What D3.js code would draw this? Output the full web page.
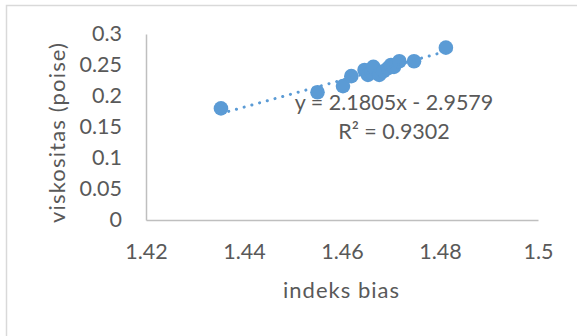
<!DOCTYPE html>
<html>
<head>
<meta charset="utf-8">
<script src="https://cdn.jsdelivr.net/npm/d3@7"></script>
<style>
	html, body {margin: 0; padding: 0; background: #fff;}
	svg {display: block; font-family: Lato, "Open Sans", sans-serif;}
</style>
</head>
<body>
<svg></svg>
<script>
// data
var indeksBias = [1.4353, 1.4550, 1.4602, 1.4619, 1.4646, 1.4653, 1.4660, 1.4664, 1.4676, 1.4685, 1.4694, 1.4700, 1.4706, 1.4717, 1.4747, 1.4812]
var viskositas = [0.180, 0.206, 0.216, 0.232, 0.242, 0.234, 0.238, 0.247, 0.234, 0.240, 0.245, 0.250, 0.247, 0.256, 0.256, 0.278]

var xTicks = [1.42, 1.44, 1.46, 1.48, 1.5]
var yTicks = [0, 0.05, 0.1, 0.15, 0.2, 0.25, 0.3]

// trendline from the chart label
var slope = 2.1805
var intercept = -2.9579
var equationLines = ['y = 2.1805x - 2.9579', 'R² = 0.9302']

var width = 577
var height = 336
var blue = '#5b9bd5'
var textColor = '#595959'

var svg = d3.select('svg').attr('width', width).attr('height', height)

// chart area border
svg.append('rect')
	.attr('x', 6.5).attr('y', 5.5)
	.attr('width', width).attr('height', height)
	.attr('fill', 'none')
	.attr('stroke', '#d9d9d9')
	.attr('stroke-width', 1.5)

var x = d3.scaleLinear().domain([1.42, 1.5]).range([146, 538])
var y = d3.scaleLinear().domain([0, 0.3]).range([220, 34])

// axes
svg.append('g').attr('transform', 'translate(0,' + y(0) + ')')
	.call(d3.axisBottom(x).tickValues(xTicks).tickSize(0).tickPadding(24).tickFormat(d3.format('')))
svg.append('g').attr('transform', 'translate(' + x(1.42) + ',0)')
	.call(d3.axisLeft(y).tickValues(yTicks).tickSize(0).tickPadding(24).tickFormat(d3.format('')))

svg.selectAll('.domain').attr('stroke', '#bfbfbf').attr('stroke-width', 1.5)
svg.selectAll('.tick text')
	.attr('fill', textColor)
	.style('font-size', '21.5px')
	.style('font-family', 'Lato, sans-serif')

// axis titles
svg.append('text')
	.attr('x', 341).attr('y', 298)
	.attr('text-anchor', 'middle')
	.attr('fill', textColor)
	.attr('textLength', 116)
	.style('font-size', '22px')
	.text('indeks bias')

svg.append('text')
	.attr('transform', 'translate(65,133) rotate(-90)')
	.attr('text-anchor', 'middle')
	.attr('fill', textColor)
	.attr('textLength', 180)
	.style('font-size', '22px')
	.text('viskositas (poise)')

// points
var points = indeksBias.map(function(v, i) {return {x: v, y: viskositas[i]}})

svg.append('g').selectAll('circle')
	.data(points)
	.enter().append('circle')
	.attr('cx', function(d) {return x(d.x)})
	.attr('cy', function(d) {return y(d.y)})
	.attr('r', 7.3)
	.attr('fill', blue)

// dotted linear trendline over the data range
var xExtent = d3.extent(indeksBias)
svg.append('line')
	.attr('x1', x(xExtent[0])).attr('y1', y(slope * xExtent[0] + intercept))
	.attr('x2', x(xExtent[1])).attr('y2', y(slope * xExtent[1] + intercept))
	.attr('stroke', blue)
	.attr('stroke-width', 3)
	.attr('stroke-linecap', 'round')
	.attr('stroke-dasharray', '0.1 7.9')

// equation label
svg.append('text')
	.attr('text-anchor', 'middle')
	.attr('fill', textColor)
	.style('font-size', '21.5px')
	.selectAll('tspan')
	.data(equationLines)
	.enter().append('tspan')
	.attr('x', 394)
	.attr('y', function(d, i) {return 110 + i * 29})
	.text(function(d) {return d})
</script>
</body>
</html>
